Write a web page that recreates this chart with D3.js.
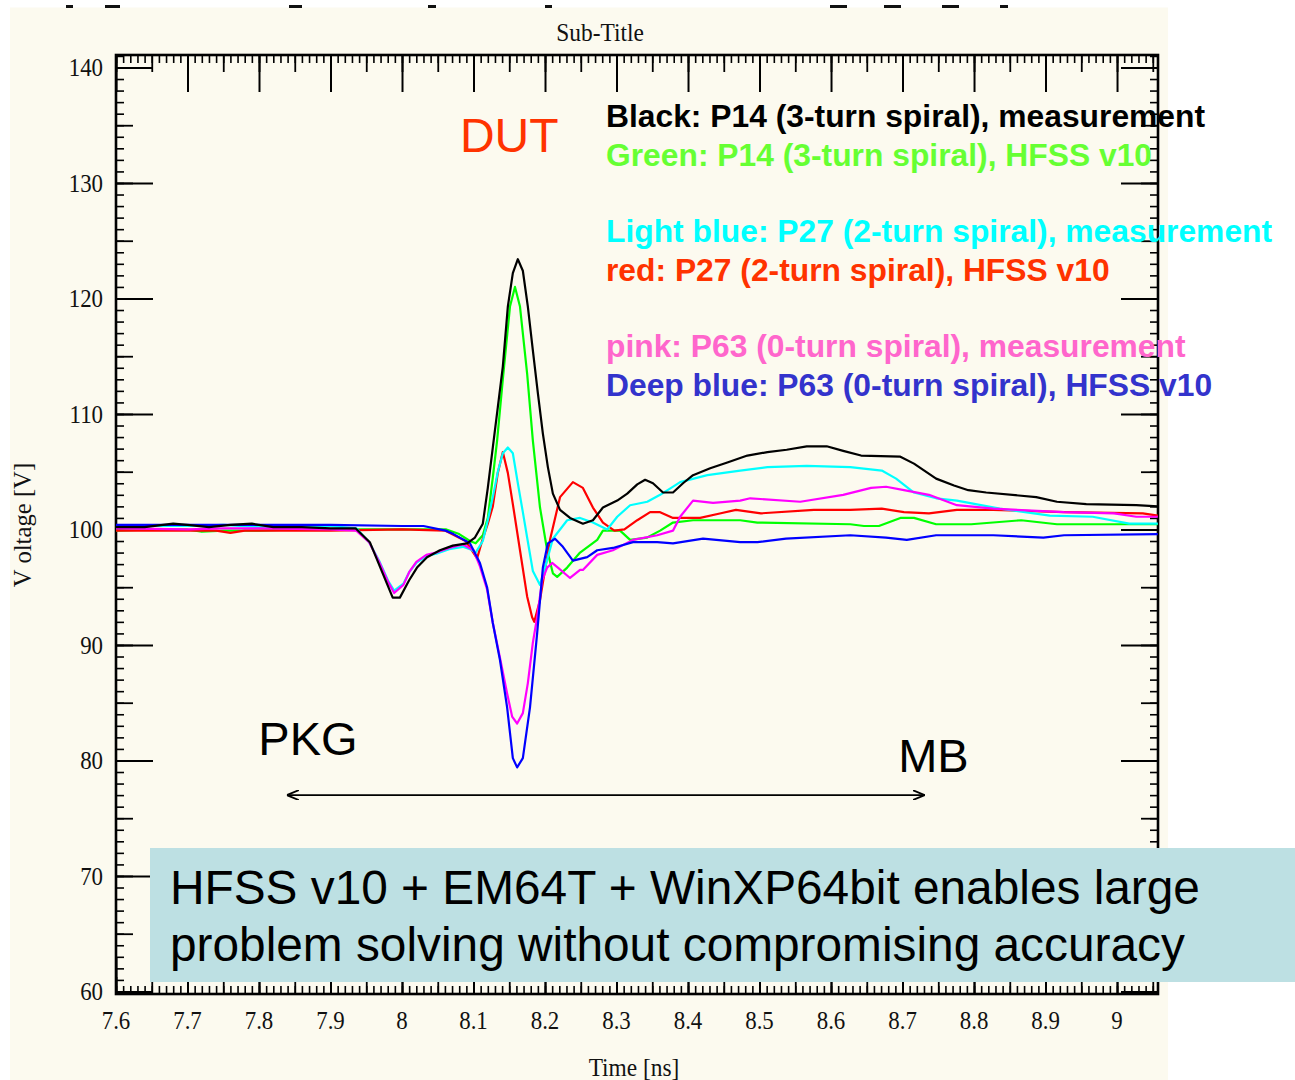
<!DOCTYPE html>
<html>
<head>
<meta charset="utf-8">
<script src="https://cdn.jsdelivr.net/npm/d3@7"></script>
<style>
  html, body { margin: 0; padding: 0; background: #ffffff; }
  svg { display: block; }
</style>
</head>
<body>
<svg id="chart" width="1295" height="1080"></svg>
<script>
// ---------------- DATA ----------------
const xTickLabels = [7.6, 7.7, 7.8, 7.9, 8, 8.1, 8.2, 8.3, 8.4, 8.5, 8.6, 8.7, 8.8, 8.9, 9];
const yTickLabels = [60, 70, 80, 90, 100, 110, 120, 130, 140];

const seriesNames = [
  "P14 (3-turn spiral), HFSS v10",
  "P27 (2-turn spiral), HFSS v10",
  "P27 (2-turn spiral), measurement",
  "P63 (0-turn spiral), measurement",
  "P63 (0-turn spiral), HFSS v10",
  "P14 (3-turn spiral), measurement"
];

// [time ns, voltage V]
const greenData = [[7.600,99.9],[7.650,100.0],[7.700,100.0],[7.720,99.8],[7.750,99.9],[7.800,99.9],[7.850,100.0],[7.900,100.0],[8.000,100.0],[8.062,100.0],[8.080,99.6],[8.095,99.0],[8.103,98.8],[8.113,99.5],[8.120,101.0],[8.127,104.5],[8.133,107.7],[8.141,113.0],[8.151,119.3],[8.158,121.0],[8.165,119.3],[8.175,113.5],[8.183,107.7],[8.193,101.9],[8.203,98.2],[8.211,96.2],[8.217,95.9],[8.231,96.7],[8.249,98.0],[8.273,99.1],[8.281,99.9],[8.305,99.9],[8.319,99.1],[8.343,99.3],[8.361,99.9],[8.379,100.6],[8.407,100.8],[8.473,100.8],[8.497,100.6],[8.627,100.45],[8.646,100.3],[8.667,100.3],[8.697,101.0],[8.716,101.0],[8.747,100.45],[8.796,100.45],[8.866,100.8],[8.916,100.45],[9.057,100.45]];

const redData = [[7.600,99.9],[7.650,99.9],[7.740,99.9],[7.760,99.7],[7.780,99.9],[7.850,99.9],[7.900,99.9],[8.000,100.0],[8.060,99.9],[8.089,99.0],[8.105,97.5],[8.112,99.0],[8.120,100.5],[8.127,102.0],[8.134,104.9],[8.141,106.7],[8.148,104.9],[8.155,102.2],[8.165,98.2],[8.175,94.2],[8.182,92.4],[8.185,92.0],[8.193,93.9],[8.207,99.1],[8.221,102.8],[8.239,104.1],[8.253,103.6],[8.267,101.9],[8.281,100.6],[8.297,99.9],[8.311,100.0],[8.329,100.8],[8.347,101.5],[8.361,101.5],[8.379,101.0],[8.417,101.0],[8.446,101.4],[8.467,101.7],[8.502,101.4],[8.576,101.7],[8.627,101.7],[8.671,101.8],[8.702,101.5],[8.737,101.4],[8.776,101.7],[8.827,101.7],[8.926,101.5],[9.036,101.4],[9.057,101.2]];

const cyanData = [[7.600,100.3],[7.700,100.3],[7.750,100.4],[7.800,100.2],[7.850,100.3],[7.900,100.3],[7.936,100.1],[7.954,98.9],[7.968,97.3],[7.981,95.5],[7.989,94.7],[8.002,95.3],[8.010,96.3],[8.020,97.1],[8.034,97.7],[8.048,97.9],[8.066,98.3],[8.085,98.5],[8.095,98.3],[8.103,98.0],[8.113,99.0],[8.120,100.8],[8.127,102.8],[8.134,105.0],[8.141,106.6],[8.148,107.1],[8.155,106.6],[8.162,104.0],[8.169,101.5],[8.175,99.3],[8.183,96.4],[8.193,95.2],[8.200,96.7],[8.211,99.2],[8.231,100.8],[8.249,101.0],[8.267,100.6],[8.287,100.0],[8.301,101.1],[8.319,102.1],[8.343,102.4],[8.361,103.0],[8.389,104.1],[8.427,104.7],[8.473,105.1],[8.511,105.4],[8.566,105.5],[8.627,105.4],[8.671,105.1],[8.691,104.4],[8.716,103.2],[8.747,102.7],[8.776,102.5],[8.836,101.8],[8.906,101.2],[8.966,101.1],[9.017,100.5],[9.057,100.5]];

const pinkData = [[7.600,100.1],[7.700,100.0],[7.750,100.1],[7.800,100.1],[7.900,100.0],[7.936,99.9],[7.954,98.9],[7.968,97.2],[7.981,95.4],[7.989,94.5],[8.002,95.2],[8.010,96.3],[8.020,97.2],[8.034,97.8],[8.048,98.0],[8.066,98.4],[8.085,98.7],[8.100,98.2],[8.109,96.8],[8.119,94.8],[8.127,91.9],[8.137,88.9],[8.147,85.8],[8.154,83.8],[8.161,83.2],[8.169,84.1],[8.176,86.7],[8.183,90.2],[8.189,92.4],[8.196,95.6],[8.203,96.7],[8.210,97.1],[8.218,96.7],[8.235,95.8],[8.249,96.5],[8.253,96.5],[8.273,97.8],[8.295,98.2],[8.323,99.1],[8.357,99.5],[8.379,99.9],[8.389,101.1],[8.407,102.5],[8.435,102.3],[8.473,102.5],[8.487,102.7],[8.557,102.4],[8.617,103.0],[8.656,103.6],[8.677,103.7],[8.702,103.4],[8.737,103.0],[8.776,102.1],[8.827,101.8],[8.926,101.5],[8.996,101.4],[9.027,101.1],[9.057,101.1]];

const blueData = [[7.600,100.4],[7.700,100.4],[7.800,100.4],[7.900,100.4],[8.000,100.3],[8.030,100.3],[8.061,99.9],[8.072,99.6],[8.095,98.8],[8.109,97.1],[8.119,95.0],[8.127,91.9],[8.137,88.7],[8.147,84.6],[8.155,80.2],[8.161,79.4],[8.169,80.2],[8.179,84.6],[8.189,91.0],[8.197,96.7],[8.204,98.8],[8.214,99.2],[8.225,98.5],[8.239,97.3],[8.259,97.6],[8.273,98.2],[8.295,98.4],[8.323,98.9],[8.357,98.9],[8.379,98.8],[8.421,99.2],[8.473,98.9],[8.497,98.9],[8.537,99.2],[8.627,99.5],[8.677,99.3],[8.706,99.1],[8.747,99.5],[8.827,99.5],[8.897,99.3],[8.926,99.5],[9.057,99.6]];

const blackData = [[7.600,100.2],[7.640,100.2],[7.680,100.5],[7.700,100.4],[7.730,100.2],[7.760,100.4],[7.790,100.5],[7.820,100.2],[7.860,100.2],[7.900,100.1],[7.935,100.1],[7.955,98.9],[7.973,96.2],[7.987,94.1],[7.997,94.1],[8.010,95.6],[8.021,96.7],[8.035,97.6],[8.053,98.2],[8.071,98.6],[8.091,98.8],[8.102,99.3],[8.113,100.5],[8.120,103.6],[8.127,107.1],[8.134,110.6],[8.141,114.1],[8.148,119.3],[8.155,122.2],[8.162,123.4],[8.169,122.4],[8.176,119.3],[8.183,115.5],[8.190,111.8],[8.197,108.3],[8.204,105.4],[8.211,103.1],[8.221,101.7],[8.235,101.0],[8.253,100.5],[8.267,100.8],[8.281,101.9],[8.301,102.5],[8.315,103.1],[8.329,103.9],[8.340,104.3],[8.351,104.0],[8.365,103.2],[8.379,103.2],[8.393,104.0],[8.407,104.7],[8.431,105.3],[8.455,105.8],[8.483,106.4],[8.511,106.7],[8.538,106.9],[8.566,107.2],[8.594,107.2],[8.617,106.8],[8.642,106.4],[8.697,106.3],[8.716,105.7],[8.747,104.4],[8.772,103.8],[8.792,103.4],[8.817,103.2],[8.887,102.8],[8.916,102.4],[8.957,102.2],[9.027,102.1],[9.057,102.0]];

const legendLines = [
  "Black: P14 (3-turn spiral), measurement",
  "Green: P14 (3-turn spiral), HFSS v10",
  "Light blue: P27 (2-turn spiral), measurement",
  "red: P27 (2-turn spiral), HFSS v10",
  "pink: P63 (0-turn spiral), measurement",
  "Deep blue: P63 (0-turn spiral), HFSS v10"
];
const boxLines = [
  "HFSS v10 + EM64T + WinXP64bit enables large",
  "problem solving without compromising accuracy"
];

// ---------------- STYLE / LAYOUT ----------------
const seriesData = [greenData, redData, cyanData, pinkData, blueData, blackData];
const seriesColors = ["#00ff00", "#ff0000", "#00ffff", "#ff00ff", "#0000ff", "#000000"];
const legendColors = ["#000000", "#66ff33", "#00ffff", "#ff3300", "#ff66cc", "#3333cc"];
const legendBaselines = [127, 166, 242, 281, 357, 396];

const svg = d3.select("#chart");
const M = { left: 116, right: 1158, top: 55, bottom: 994 };
const x = d3.scaleLinear().domain([7.6, 9.0573]).range([M.left, M.right]);
const y = d3.scaleLinear().domain([59.78, 141.08]).range([M.bottom, M.top]);

// background panel
svg.append("rect").attr("x", 10).attr("y", 7.5).attr("width", 1158).attr("height", 1073).attr("fill", "#fcfaef");

// residual marks along the very top of the slide
const stripMarks = [[66,73],[105,120],[289,302],[428,436],[545,552],[830,847],[884,901],[942,959],[1000,1008]];
svg.selectAll("rect.strip").data(stripMarks).join("rect").attr("class", "strip")
  .attr("x", d => d[0]).attr("width", d => d[1] - d[0]).attr("y", 5).attr("height", 3).attr("fill", "#111");

// clip path
svg.append("clipPath").attr("id", "plotclip").append("rect")
  .attr("x", M.left).attr("y", M.top).attr("width", M.right - M.left).attr("height", M.bottom - M.top);

// ----- ticks (all four sides, pointing inward) -----
const xMinor = d3.range(760, 906).map(d => d / 100);
const xMedium = d3.range(152, 182).map(d => d / 20);
const xMajor = d3.range(76, 91).map(d => d / 10);
const yMinor = d3.range(60, 142);
const yMedium = d3.range(60, 145, 5);
const yMajor = d3.range(60, 150, 10);

function tickLayer(axisFn, scale, values, size, transform, sw) {
  const g = svg.append("g").attr("transform", transform)
    .call(axisFn(scale).tickValues(values).tickSize(size).tickFormat(""));
  g.select(".domain").remove();
  g.selectAll(".tick line").attr("stroke", "#000").attr("stroke-width", sw);
  return g;
}
[[xMinor, 8, 1.6], [xMedium, 17, 1.8], [xMajor, 37, 2]].forEach(([v, s, w]) => {
  tickLayer(d3.axisBottom, x, v, s, `translate(0,${M.top})`, w);
  tickLayer(d3.axisTop, x, v, s, `translate(0,${M.bottom})`, w);
});
[[yMinor, 8, 1.6], [yMedium, 17, 1.8], [yMajor, 37, 2]].forEach(([v, s, w]) => {
  tickLayer(d3.axisRight, y, v, s, `translate(${M.left},0)`, w);
  tickLayer(d3.axisLeft, y, v, s, `translate(${M.right},0)`, w);
});

// frame
svg.append("rect").attr("x", M.left).attr("y", M.top)
  .attr("width", M.right - M.left).attr("height", M.bottom - M.top)
  .attr("fill", "none").attr("stroke", "#000").attr("stroke-width", 2.6);

// ----- tick labels -----
const serif = "'Liberation Serif', 'Times New Roman', serif";
svg.append("g").selectAll("text").data(xTickLabels).join("text")
  .attr("transform", d => `translate(${x(d)},1029) scale(0.88,1)`)
  .attr("text-anchor", "middle").attr("font-family", serif).attr("font-size", 26)
  .attr("fill", "#111").text(d => d3.format("~g")(d));
svg.append("g").selectAll("text").data(yTickLabels).join("text")
  .attr("transform", d => `translate(103,${y(d) + 9}) scale(0.88,1)`)
  .attr("text-anchor", "end").attr("font-family", serif).attr("font-size", 26)
  .attr("fill", "#111").text(d => d);

// titles
svg.append("text").attr("transform", "translate(600,41) scale(0.9,1)")
  .attr("text-anchor", "middle").attr("font-family", serif).attr("font-size", 26)
  .attr("fill", "#111").text("Sub-Title");
svg.append("text").attr("transform", "translate(634,1076) scale(0.9,1)")
  .attr("text-anchor", "middle").attr("font-family", serif).attr("font-size", 26)
  .attr("fill", "#111").text("Time [ns]");
svg.append("text").attr("transform", "translate(31,525) rotate(-90) scale(0.95,1)")
  .attr("text-anchor", "middle").attr("font-family", serif).attr("font-size", 26)
  .attr("fill", "#111").text("V oltage [V]");

// ----- series lines -----
const line = d3.line().x(d => x(d[0])).y(d => y(d[1]));
svg.append("g").attr("clip-path", "url(#plotclip)")
  .selectAll("path").data(seriesData).join("path")
  .attr("d", line).attr("fill", "none")
  .attr("stroke", (d, i) => seriesColors[i]).attr("stroke-width", 2.2)
  .attr("stroke-linejoin", "round");

// ----- annotations -----
const sans = "'Liberation Sans', Arial, sans-serif";
svg.append("text").attr("x", x(8.081)).attr("y", 152).attr("font-family", sans)
  .attr("font-size", 48).attr("fill", "#ff3300").text("DUT");
svg.append("text").attr("x", x(7.799)).attr("y", 755).attr("font-family", sans)
  .attr("font-size", 47).attr("fill", "#000").text("PKG");
svg.append("text").attr("x", x(8.694)).attr("y", 772).attr("font-family", sans)
  .attr("font-size", 47).attr("fill", "#000").text("MB");

// double-headed arrow
const defs = svg.append("defs");
["arrEnd", "arrStart"].forEach((id, k) => {
  defs.append("marker").attr("id", id).attr("viewBox", "0 0 12 10")
    .attr("refX", k === 0 ? 12 : 0).attr("refY", 5)
    .attr("markerWidth", 12).attr("markerHeight", 10).attr("markerUnits", "userSpaceOnUse")
    .attr("orient", "auto")
    .append("path").attr("d", k === 0 ? "M0,0 L12,5 L0,10" : "M12,0 L0,5 L12,10")
    .attr("fill", "none").attr("stroke", "#000").attr("stroke-width", 1.8);
});
svg.append("line").attr("x1", x(7.839)).attr("x2", x(8.731)).attr("y1", y(77.0)).attr("y2", y(77.0))
  .attr("stroke", "#000").attr("stroke-width", 1.8)
  .attr("marker-start", "url(#arrStart)").attr("marker-end", "url(#arrEnd)");

// legend text
svg.append("g").selectAll("text").data(legendLines).join("text")
  .attr("x", 606).attr("y", (d, i) => legendBaselines[i])
  .attr("font-family", sans).attr("font-weight", "bold").attr("font-size", 31.8)
  .attr("fill", (d, i) => legendColors[i]).text(d => d);

// bottom box
svg.append("rect").attr("x", 150).attr("y", 848).attr("width", 1145).attr("height", 134).attr("fill", "#bde0e3");
svg.append("g").selectAll("text").data(boxLines).join("text")
  .attr("x", 170).attr("y", (d, i) => 904 + i * 57)
  .attr("font-family", sans).attr("font-size", 47.8).attr("fill", "#000").text(d => d);
</script>
</body>
</html>
